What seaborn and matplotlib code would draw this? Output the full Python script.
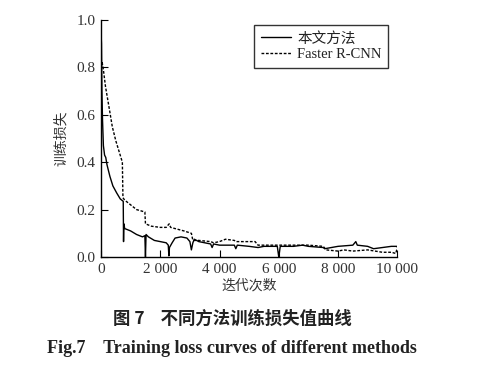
import matplotlib
matplotlib.use("Agg")
import matplotlib.pyplot as plt
import seaborn as sns
import pandas as pd

# ---- data ----
ours_iter = [0, 15, 30, 50, 80, 120, 160, 200, 300, 400, 530, 650, 750, 760, 770, 800, 900, 1000,
             1200, 1400, 1480, 1500, 1520, 1600, 1800, 2000, 2200, 2270, 2290, 2310, 2400, 2500,
             2700, 2900, 3000, 3050, 3100, 3150, 3300, 3500, 3700, 3750, 3800, 4000, 4500, 4550,
             4600, 5000, 5300, 5500, 5950, 6000, 6050, 6500, 6800, 7000, 7500, 7550, 8000, 8500,
             8600, 8650, 9000, 9200, 9500, 9800, 10000]
ours_loss = [0.95, 0.90, 0.70, 0.58, 0.47, 0.43, 0.42, 0.39, 0.34, 0.30, 0.27, 0.245, 0.235, 0.065,
             0.14, 0.12, 0.115, 0.11, 0.095, 0.085, 0.09, 0.0, 0.095, 0.085, 0.07, 0.065, 0.06,
             0.05, 0.005, 0.04, 0.06, 0.08, 0.085, 0.08, 0.065, 0.03, 0.06, 0.075, 0.065, 0.06,
             0.055, 0.04, 0.055, 0.05, 0.05, 0.035, 0.05, 0.045, 0.04, 0.045, 0.045, 0.0, 0.045,
             0.045, 0.05, 0.045, 0.04, 0.035, 0.045, 0.05, 0.065, 0.05, 0.045, 0.035, 0.04, 0.045,
             0.045]

frcnn_iter = [0, 40, 80, 150, 300, 380, 500, 720, 740, 800, 1000, 1200, 1480, 1500, 1700, 2000,
              2200, 2300, 2350, 2500, 2800, 3050, 3100, 3300, 3700, 3800, 4000, 4200, 4500, 4550,
              5200, 5300, 6000, 7000, 7500, 7600, 8000, 8200, 8500, 9000, 9500, 9800, 9950, 10000]
frcnn_loss = [0.80, 0.82, 0.79, 0.72, 0.61, 0.55, 0.49, 0.40, 0.25, 0.24, 0.22, 0.20, 0.19, 0.14,
              0.13, 0.125, 0.125, 0.14, 0.125, 0.12, 0.11, 0.10, 0.07, 0.07, 0.065, 0.06, 0.065,
              0.075, 0.07, 0.065, 0.065, 0.05, 0.05, 0.05, 0.045, 0.03, 0.025, 0.03, 0.025, 0.03,
              0.02, 0.02, 0.015, 0.04]

methods = ["本文方法", "Faster R-CNN"]
x_ticks = [0, 2000, 4000, 6000, 8000, 10000]
x_tick_labels = ["0", "2 000", "4 000", "6 000", "8 000", "10 000"]
y_ticks = [0.0, 0.2, 0.4, 0.6, 0.8, 1.0]
y_tick_labels = ["0.0", "0.2", "0.4", "0.6", "0.8", "1.0"]

df = pd.concat([
    pd.DataFrame({"iter": ours_iter, "loss": ours_loss, "method": methods[0]}),
    pd.DataFrame({"iter": frcnn_iter, "loss": frcnn_loss, "method": methods[1]}),
], ignore_index=True)

sns.set_style("ticks")
plt.rcParams["font.family"] = ["Liberation Serif", "Noto Sans CJK SC", "DejaVu Sans"]

fig = plt.figure(figsize=(4.94, 3.68), dpi=100)
ax = fig.add_axes([0.2045, 0.3016, 0.5997, 0.6441])

sns.lineplot(data=df, x="iter", y="loss", hue="method", style="method",
             palette=["black", "black"], dashes=[(None, None), (2, 1.2)],
             linewidth=1.0, ax=ax, estimator=None, sort=False)

ax.set_xlim(0, 10000)
ax.set_ylim(0, 1.0)
ax.set_xticks(x_ticks)
ax.set_xticklabels(x_tick_labels)
ax.set_yticks(y_ticks)
ax.set_yticklabels(y_tick_labels)
ax.tick_params(direction="in", length=5, width=0.8, labelsize=11, colors="black", pad=4)
for t in ax.get_xticklabels() + ax.get_yticklabels():
    t.set_color("#333333")
sns.despine(ax=ax)
for s in ["left", "bottom"]:
    ax.spines[s].set_linewidth(1.0)
    ax.spines[s].set_color("black")

ax.set_xlabel("迭代次数", family=["Noto Sans CJK SC"], fontsize=10, color="#333333", labelpad=2)
ax.set_ylabel("训练损失", family=["Noto Sans CJK SC"], fontsize=10, color="#333333", labelpad=6)

leg = ax.legend(loc="upper right", frameon=True, fancybox=False, fontsize=10.5,
                handlelength=2.1, borderpad=0.45, labelspacing=0.2, handletextpad=0.4,
                borderaxespad=0, bbox_to_anchor=(0.97, 0.979))
leg.get_frame().set_edgecolor("black")
leg.get_frame().set_linewidth(1.0)
for t in leg.get_texts():
    t.set_color("#222222")

fig.text(0.47, 0.135, "图 7    不同方法训练损失值曲线", ha="center", va="center",
         family=["Noto Sans CJK SC"], fontweight="bold", fontsize=12.5, color="#222222")
fig.text(0.47, 0.054, "Fig.7    Training loss curves of different methods", ha="center",
         va="center", family=["Liberation Serif"], fontweight="bold", fontsize=13,
         color="#222222")

fig.savefig("out.png", dpi=100, facecolor="white")
